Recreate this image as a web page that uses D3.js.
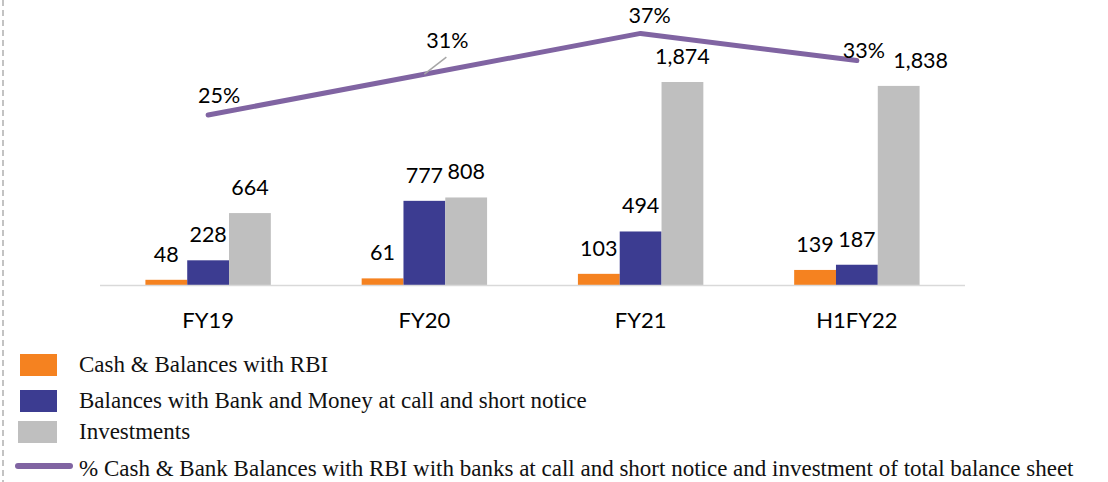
<!DOCTYPE html>
<html>
<head>
<meta charset="utf-8">
<script src="https://cdn.jsdelivr.net/npm/d3@7"></script>
<style>
  body { margin: 0; background: #fff; }
  .val { font-family: Lato, "Open Sans", sans-serif; font-size: 21.5px; fill: #000; }
  .cat { font-family: Lato, "Open Sans", sans-serif; font-size: 22px; fill: #000; }
  .leg { font-family: "Liberation Serif", "DejaVu Serif", serif; font-size: 23px; fill: #111; }
</style>
</head>
<body>
<svg id="chart" width="1108" height="482"></svg>
<script>
// data
var categories = ["FY19", "FY20", "FY21", "H1FY22"];
var cashRBI = [48, 61, 103, 139];
var bankBalances = [228, 777, 494, 187];
var investments = [664, 808, 1874, 1838];
var pctShare = [25, 31, 37, 33];
var pctLabels = ["25%", "31%", "37%", "33%"];
var seriesNames = [
  "Cash & Balances with RBI",
  "Balances with Bank and Money at call and short notice",
  "Investments"
];
var lineName = "% Cash & Bank Balances with RBI with banks at call and short notice and investment of total balance sheet";

var colors = ["#F58220", "#3C3C91", "#BFBFBF"];
var lineColor = "#8064A2";

var svg = d3.select("#chart");
var margin = { left: 100, right: 143, base: 285 };
var width = 1108;

// left dashed frame
svg.append("line")
  .attr("x1", 3).attr("x2", 3).attr("y1", 0).attr("y2", 482)
  .attr("stroke", "#b0b0b0").attr("stroke-width", 1.5)
  .attr("stroke-dasharray", "6,4");

var x = d3.scaleBand()
  .domain(categories)
  .range([margin.left, width - margin.right])
  .paddingInner(0.42).paddingOuter(0.21);

var sub = d3.scaleBand()
  .domain([0, 1, 2])
  .range([0, x.bandwidth()]);

var y = d3.scaleLinear().domain([0, 1874]).range([margin.base, 82]);
var yPct = d3.scaleLinear().domain([0, 25]).range([margin.base, 115]);

var series = [cashRBI, bankBalances, investments];

// bars
series.forEach(function (vals, s) {
  svg.selectAll(".bar" + s)
    .data(vals)
    .enter()
    .append("rect")
    .attr("x", function (d, i) { return x(categories[i]) + sub(s); })
    .attr("y", function (d) { return y(d); })
    .attr("width", sub.bandwidth())
    .attr("height", function (d) { return margin.base - y(d); })
    .attr("fill", colors[s]);

  svg.selectAll(".val" + s)
    .data(vals)
    .enter()
    .append("text")
    .attr("class", "val")
    .attr("text-anchor", "middle")
    .attr("x", function (d, i) {
      var cx = x(categories[i]) + sub(s) + sub.bandwidth() / 2;
      // last investments label is pushed right in the original
      if (s == 2 && i == 3) cx += 22;
      return cx;
    })
    .attr("y", function (d) { return y(d) - 18; })
    .text(function (d) { return d3.format(",")(d); });
});

// baseline
svg.append("line")
  .attr("x1", margin.left).attr("x2", width - margin.right)
  .attr("y1", margin.base + 0.5).attr("y2", margin.base + 0.5)
  .attr("stroke", "#d9d9d9").attr("stroke-width", 1.5);

// category axis labels
svg.selectAll(".cat")
  .data(categories)
  .enter()
  .append("text")
  .attr("class", "cat")
  .attr("text-anchor", "middle")
  .attr("x", function (d) { return x(d) + x.bandwidth() / 2; })
  .attr("y", 328)
  .text(function (d) { return d; });

// percentage line
var line = d3.line()
  .x(function (d, i) { return x(categories[i]) + x.bandwidth() / 2; })
  .y(function (d) { return yPct(d); });

svg.append("path")
  .datum(pctShare)
  .attr("d", line)
  .attr("fill", "none")
  .attr("stroke", lineColor)
  .attr("stroke-width", 5)
  .attr("stroke-linecap", "round")
  .attr("stroke-linejoin", "round");

// label offsets (dx, dy) relative to the point
var pctOffsets = [[11, -12], [23, -26], [9, -10], [7, -3]];
svg.selectAll(".pct")
  .data(pctShare)
  .enter()
  .append("text")
  .attr("class", "val")
  .attr("text-anchor", "middle")
  .attr("x", function (d, i) { return x(categories[i]) + x.bandwidth() / 2 + pctOffsets[i][0]; })
  .attr("y", function (d, i) { return yPct(d) + pctOffsets[i][1]; })
  .text(function (d, i) { return pctLabels[i]; });

// leader line for the 31% label
var p1x = x(categories[1]) + x.bandwidth() / 2;
svg.append("line")
  .attr("x1", p1x).attr("y1", yPct(pctShare[1]))
  .attr("x2", p1x + 22).attr("y2", yPct(pctShare[1]) - 17)
  .attr("stroke", "#a6a6a6").attr("stroke-width", 1.5);

// legend
var legY = [365, 401, 432];
seriesNames.forEach(function (name, i) {
  svg.append("rect")
    .attr("x", i == 2 ? 18 : 20).attr("y", legY[i] - 11)
    .attr("width", i == 2 ? 39 : 37).attr("height", 22)
    .attr("fill", colors[i]);
  svg.append("text")
    .attr("class", "leg")
    .attr("x", 79).attr("y", legY[i] + 7)
    .text(name);
});
svg.append("line")
  .attr("x1", 18).attr("x2", 70).attr("y1", 466).attr("y2", 466)
  .attr("stroke", lineColor).attr("stroke-width", 6)
  .attr("stroke-linecap", "round");
svg.append("text")
  .attr("class", "leg")
  .attr("x", 79).attr("y", 476)
  .text(lineName);
</script>
</body>
</html>
